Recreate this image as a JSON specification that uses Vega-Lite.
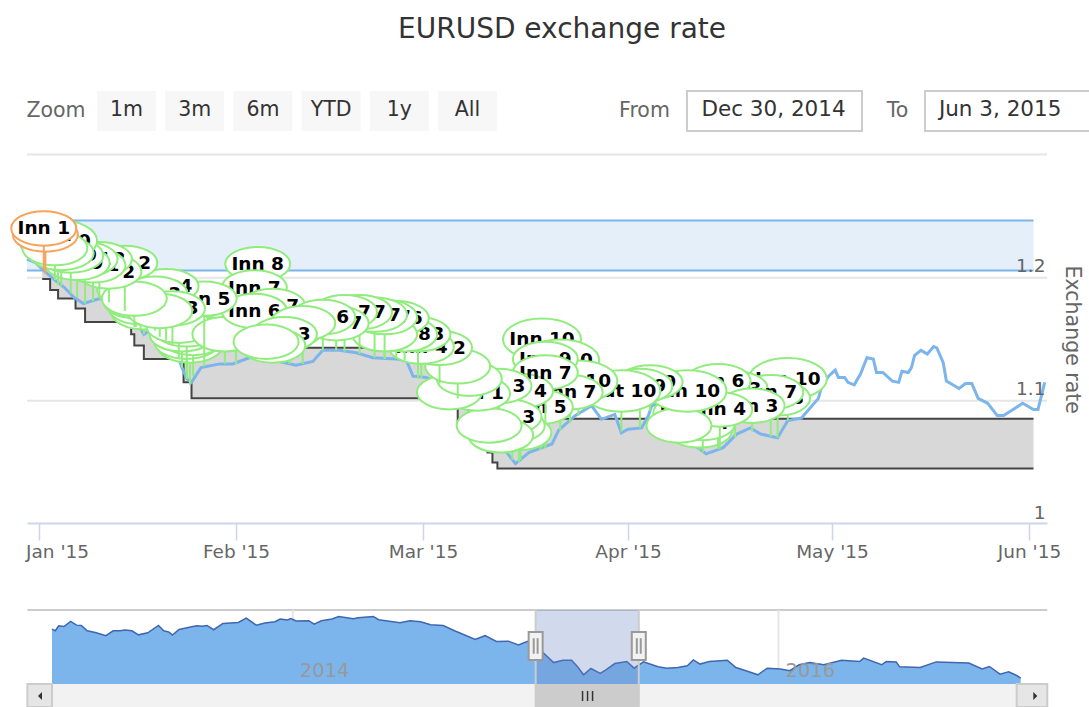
{"$schema":"https://vega.github.io/schema/vega-lite/v6.json","width":1089,"height":707,"autosize":"none","padding":0,"background":"white",
"title":{"text":"EURUSD exchange rate","font":"DejaVu Sans","fontSize":28,"fontWeight":"normal","color":"#333333","anchor":"middle","frame":"group","dx":17.5,"dy":44,"offset":0},
"config":{"view":{"stroke":null},"point":{"shape":"M-1,0A1,0.53 0 1,1 1,0A1,0.53 0 1,1 -1,0Z","filled":true,"fill":"#ffffff","stroke":"#90ed7d","strokeWidth":2,"opacity":1,"size":4225},"rule":{"color":"#90ed7d","strokeWidth":2},"text":{"font":"DejaVu Sans","fontSize":18.5,"fontWeight":"bold","color":"#000000"}},
"datasets":{
"line":[{"date":"2014-12-30T00:00","rate":1.215},{"date":"2014-12-31T12:00","rate":1.212},{"date":"2015-01-01T12:00","rate":1.207},{"date":"2015-01-03T12:00","rate":1.198},{"date":"2015-01-05T00:00","rate":1.192},{"date":"2015-01-06T12:00","rate":1.184},{"date":"2015-01-08T00:00","rate":1.179},{"date":"2015-01-10T12:00","rate":1.183},{"date":"2015-01-13T00:00","rate":1.18},{"date":"2015-01-15T12:00","rate":1.172},{"date":"2015-01-17T12:00","rate":1.154},{"date":"2015-01-19T00:00","rate":1.159},{"date":"2015-01-21T00:00","rate":1.149},{"date":"2015-01-22T12:00","rate":1.141},{"date":"2015-01-23T12:00","rate":1.127},{"date":"2015-01-24T06:00","rate":1.118},{"date":"2015-01-25T00:00","rate":1.115},{"date":"2015-01-26T12:00","rate":1.127},{"date":"2015-01-27T12:00","rate":1.128},{"date":"2015-01-29T12:00","rate":1.13},{"date":"2015-01-31T12:00","rate":1.13},{"date":"2015-02-03T00:00","rate":1.135},{"date":"2015-02-04T00:00","rate":1.143},{"date":"2015-02-05T12:00","rate":1.135},{"date":"2015-02-07T12:00","rate":1.132},{"date":"2015-02-10T00:00","rate":1.129},{"date":"2015-02-12T12:00","rate":1.132},{"date":"2015-02-14T00:00","rate":1.141},{"date":"2015-02-16T12:00","rate":1.141},{"date":"2015-02-19T00:00","rate":1.139},{"date":"2015-02-21T12:00","rate":1.135},{"date":"2015-02-25T00:00","rate":1.134},{"date":"2015-02-26T12:00","rate":1.133},{"date":"2015-02-27T12:00","rate":1.12},{"date":"2015-03-01T12:00","rate":1.119},{"date":"2015-03-04T12:00","rate":1.111},{"date":"2015-03-07T00:00","rate":1.098},{"date":"2015-03-11T00:00","rate":1.073},{"date":"2015-03-12T00:00","rate":1.062},{"date":"2015-03-13T12:00","rate":1.059},{"date":"2015-03-15T00:00","rate":1.049},{"date":"2015-03-17T00:00","rate":1.058},{"date":"2015-03-19T00:00","rate":1.062},{"date":"2015-03-20T12:00","rate":1.065},{"date":"2015-03-21T12:00","rate":1.076},{"date":"2015-03-24T00:00","rate":1.088},{"date":"2015-03-26T12:00","rate":1.096},{"date":"2015-03-28T00:00","rate":1.085},{"date":"2015-03-30T00:00","rate":1.089},{"date":"2015-03-31T00:00","rate":1.074},{"date":"2015-04-01T00:00","rate":1.077},{"date":"2015-04-03T00:00","rate":1.078},{"date":"2015-04-04T00:00","rate":1.088},{"date":"2015-04-04T12:00","rate":1.096},{"date":"2015-04-06T12:00","rate":1.1},{"date":"2015-04-08T00:00","rate":1.088},{"date":"2015-04-10T00:00","rate":1.07},{"date":"2015-04-10T12:00","rate":1.065},{"date":"2015-04-12T12:00","rate":1.057},{"date":"2015-04-15T00:00","rate":1.062},{"date":"2015-04-17T00:00","rate":1.073},{"date":"2015-04-19T00:00","rate":1.078},{"date":"2015-04-20T12:00","rate":1.073},{"date":"2015-04-23T00:00","rate":1.07},{"date":"2015-04-24T12:00","rate":1.084},{"date":"2015-04-26T12:00","rate":1.086},{"date":"2015-04-29T00:00","rate":1.102},{"date":"2015-04-29T12:00","rate":1.112},{"date":"2015-04-30T12:00","rate":1.12},{"date":"2015-05-01T12:00","rate":1.125},{"date":"2015-05-02T00:00","rate":1.119},{"date":"2015-05-03T00:00","rate":1.119},{"date":"2015-05-03T12:00","rate":1.115},{"date":"2015-05-04T12:00","rate":1.113},{"date":"2015-05-05T12:00","rate":1.122},{"date":"2015-05-06T12:00","rate":1.135},{"date":"2015-05-07T12:00","rate":1.134},{"date":"2015-05-08T00:00","rate":1.123},{"date":"2015-05-09T00:00","rate":1.123},{"date":"2015-05-10T12:00","rate":1.116},{"date":"2015-05-11T12:00","rate":1.115},{"date":"2015-05-12T00:00","rate":1.124},{"date":"2015-05-13T00:00","rate":1.123},{"date":"2015-05-13T12:00","rate":1.127},{"date":"2015-05-14T00:00","rate":1.137},{"date":"2015-05-15T00:00","rate":1.141},{"date":"2015-05-16T00:00","rate":1.138},{"date":"2015-05-17T00:00","rate":1.144},{"date":"2015-05-17T12:00","rate":1.143},{"date":"2015-05-18T12:00","rate":1.131},{"date":"2015-05-19T00:00","rate":1.116},{"date":"2015-05-21T00:00","rate":1.11},{"date":"2015-05-22T00:00","rate":1.114},{"date":"2015-05-23T00:00","rate":1.114},{"date":"2015-05-24T00:00","rate":1.102},{"date":"2015-05-25T12:00","rate":1.098},{"date":"2015-05-27T00:00","rate":1.088},{"date":"2015-05-28T00:00","rate":1.088},{"date":"2015-05-29T12:00","rate":1.093},{"date":"2015-05-31T00:00","rate":1.098},{"date":"2015-06-01T12:00","rate":1.093},{"date":"2015-06-02T00:00","rate":1.093},{"date":"2015-06-02T18:00","rate":1.115}],
"steps":[{"date":"2015-01-01T12:00","lo":1.199,"hi":1.24},{"date":"2015-01-02T18:00","lo":1.19,"hi":1.231},{"date":"2015-01-04T00:00","lo":1.183,"hi":1.224},{"date":"2015-01-06T18:00","lo":1.175,"hi":1.216},{"date":"2015-01-08T06:00","lo":1.164,"hi":1.205},{"date":"2015-01-15T12:00","lo":1.154,"hi":1.195},{"date":"2015-01-16T00:00","lo":1.145,"hi":1.186},{"date":"2015-01-17T12:00","lo":1.134,"hi":1.175},{"date":"2015-01-23T18:00","lo":1.115,"hi":1.156},{"date":"2015-01-25T00:00","lo":1.102,"hi":1.143},{"date":"2015-03-05T00:00","lo":1.098,"hi":1.139},{"date":"2015-03-06T06:00","lo":1.081,"hi":1.122},{"date":"2015-03-10T18:00","lo":1.058,"hi":1.099},{"date":"2015-03-11T12:00","lo":1.05,"hi":1.091},{"date":"2015-03-12T06:00","lo":1.045,"hi":1.0855},{"date":"2015-06-01T12:00","lo":1.045,"hi":1.0855}],
"flags":[
{"d":0,"date":"2015-01-17T12:00","top":1.172,"r":1.154,"t":""},{"d":1,"date":"2015-01-17T00:00","top":1.176,"r":1.157,"t":""},{"d":2,"date":"2015-01-16T06:00","top":1.181,"r":1.16,"t":""},{"d":3,"date":"2015-01-15T18:00","top":1.186,"r":1.165,"t":""},{"d":4,"date":"2015-01-15T06:00","top":1.191,"r":1.17,"t":""},
{"d":15,"date":"2015-01-14T12:00","top":1.212,"r":1.173,"t":"Inn 2"},{"d":16,"date":"2015-01-12T00:00","top":1.205,"r":1.18,"t":"Inn 2"},{"d":17,"date":"2015-01-10T12:00","top":1.215,"r":1.183,"t":"Inn 2"},{"d":18,"date":"2015-01-09T12:00","top":1.21,"r":1.181,"t":"Inn 1"},{"d":19,"date":"2015-01-08T06:00","top":1.215,"r":1.179,"t":"Inn 1"},{"d":20,"date":"2015-01-07T00:00","top":1.212,"r":1.184,"t":"Inn 9"},{"d":21,"date":"2015-01-06T00:00","top":1.218,"r":1.187,"t":"Inn 9"},{"d":22,"date":"2015-01-04T00:00","top":1.23,"r":1.194,"t":"Inn 10"},{"d":23,"date":"2015-01-04T12:00","top":1.22,"r":1.193,"t":""},{"d":24,"date":"2015-01-03T12:00","top":1.224,"r":1.198,"t":""},{"d":98,"date":"2015-01-02T00:00","top":1.235,"r":1.203,"t":"Inn 1"},{"d":99,"date":"2015-01-01T18:00","top":1.24,"r":1.206,"t":"Inn 1"},
{"d":0,"date":"2015-01-24T18:00","top":1.145,"r":1.113,"t":"Inn 1"},{"d":1,"date":"2015-01-24T06:00","top":1.148,"r":1.118,"t":"Inn 2"},{"d":2,"date":"2015-01-25T06:00","top":1.151,"r":1.12,"t":"Inn 3"},{"d":3,"date":"2015-01-23T12:00","top":1.154,"r":1.127,"t":"Inn 4"},{"d":4,"date":"2015-01-24T06:00","top":1.158,"r":1.118,"t":"Inn 5"},{"d":5,"date":"2015-01-23T00:00","top":1.161,"r":1.135,"t":""},{"d":6,"date":"2015-02-01T00:00","top":1.159,"r":1.13,"t":"Inn 5"},{"d":7,"date":"2015-01-30T06:00","top":1.154,"r":1.13,"t":""},{"d":9,"date":"2015-01-27T00:00","top":1.183,"r":1.128,"t":"Inn 5"},{"d":10,"date":"2015-01-21T00:00","top":1.193,"r":1.149,"t":"Inn 4"},{"d":11,"date":"2015-01-19T06:00","top":1.187,"r":1.157,"t":"Inn 3"},{"d":12,"date":"2015-01-22T00:00","top":1.175,"r":1.145,"t":"Inn 3"},{"d":13,"date":"2015-01-20T00:00","top":1.173,"r":1.152,"t":""},{"d":14,"date":"2015-01-16T00:00","top":1.183,"r":1.16,"t":""},
{"d":0,"date":"2015-02-04T06:00","top":1.211,"r":1.143,"t":"Inn 8"},{"d":1,"date":"2015-02-03T18:00","top":1.192,"r":1.139,"t":"Inn 7"},{"d":2,"date":"2015-02-09T00:00","top":1.157,"r":1.13,"t":"Inn 1"},{"d":3,"date":"2015-02-08T06:00","top":1.157,"r":1.131,"t":"Inn 3"},{"d":4,"date":"2015-02-08T00:00","top":1.163,"r":1.132,"t":"Inn 3"},{"d":5,"date":"2015-02-07T06:00","top":1.167,"r":1.132,"t":"Inn 4"},{"d":6,"date":"2015-02-06T12:00","top":1.17,"r":1.134,"t":"Inn 5"},{"d":7,"date":"2015-02-06T12:00","top":1.177,"r":1.134,"t":"Inn 7"},{"d":8,"date":"2015-02-03T18:00","top":1.173,"r":1.139,"t":"Inn 6"},
{"d":21,"date":"2015-02-28T18:00","top":1.144,"r":1.118,"t":"Inn 4"},{"d":22,"date":"2015-02-28T06:00","top":1.154,"r":1.118,"t":"Inn 3"},{"d":23,"date":"2015-02-26T06:00","top":1.154,"r":1.133,"t":"Inn 8"},{"d":24,"date":"2015-02-25T00:00","top":1.167,"r":1.134,"t":"Inn 6"},{"d":24,"date":"2015-02-23T06:00","top":1.154,"r":1.134,"t":""},{"d":25,"date":"2015-02-23T06:00","top":1.168,"r":1.134,"t":"Inn 7"},{"d":26,"date":"2015-02-21T18:00","top":1.17,"r":1.135,"t":"Inn 7"},{"d":27,"date":"2015-02-19T12:00","top":1.172,"r":1.138,"t":"Inn 7"},{"d":28,"date":"2015-02-17T06:00","top":1.172,"r":1.14,"t":"Inn 7"},{"d":29,"date":"2015-02-16T00:00","top":1.163,"r":1.141,"t":"Inn 7"},{"d":30,"date":"2015-02-14T00:00","top":1.168,"r":1.141,"t":"Inn 6"},{"d":31,"date":"2015-02-11T00:00","top":1.163,"r":1.13,"t":""},{"d":32,"date":"2015-02-08T06:00","top":1.154,"r":1.131,"t":"Inn 3"},{"d":33,"date":"2015-02-06T12:00","top":1.145,"r":1.134,"t":""},{"d":33,"date":"2015-02-05T12:00","top":1.148,"r":1.135,"t":""},
{"d":0,"date":"2015-03-19T00:00","top":1.15,"r":1.062,"t":"Inn 10"},{"d":1,"date":"2015-03-21T18:00","top":1.133,"r":1.076,"t":"Inn 10"},{"d":11,"date":"2015-03-19T12:00","top":1.134,"r":1.062,"t":"Inn 9"},{"d":12,"date":"2015-03-19T12:00","top":1.123,"r":1.062,"t":"Inn 7"},{"d":9,"date":"2015-03-24T12:00","top":1.116,"r":1.088,"t":"Inn 10"},{"d":10,"date":"2015-03-23T06:00","top":1.107,"r":1.082,"t":"Inn 7"},{"d":11,"date":"2015-03-18T18:00","top":1.095,"r":1.06,"t":"Inn 5"},{"d":12,"date":"2015-03-15T18:00","top":1.108,"r":1.052,"t":"Inn 4"},{"d":13,"date":"2015-03-15T12:00","top":1.074,"r":1.05,"t":""},{"d":14,"date":"2015-03-14T12:00","top":1.08,"r":1.052,"t":""},{"d":15,"date":"2015-03-14T00:00","top":1.087,"r":1.058,"t":"Inn 3"},{"d":16,"date":"2015-03-12T12:00","top":1.112,"r":1.06,"t":"Inn 3"},{"d":16,"date":"2015-03-12T18:00","top":1.072,"r":1.06,"t":""},{"d":17,"date":"2015-03-11T00:00","top":1.08,"r":1.073,"t":""},{"d":17,"date":"2015-03-09T06:00","top":1.106,"r":1.085,"t":"Inn 1"},{"d":18,"date":"2015-03-05T00:00","top":1.107,"r":1.105,"t":""},{"d":18,"date":"2015-03-08T00:00","top":1.118,"r":1.097,"t":""},{"d":19,"date":"2015-03-06T06:00","top":1.128,"r":1.102,"t":""},{"d":20,"date":"2015-03-03T12:00","top":1.143,"r":1.114,"t":"Inn 2"},
{"d":8,"date":"2015-03-31T00:00","top":1.108,"r":1.075,"t":"Out 10"},{"d":7,"date":"2015-04-02T18:00","top":1.112,"r":1.078,"t":"Inn 9"},{"d":6,"date":"2015-04-04T06:00","top":1.115,"r":1.092,"t":"Inn 9"},{"d":5,"date":"2015-04-08T12:00","top":1.08,"r":1.068,"t":""},{"d":5,"date":"2015-04-09T18:00","top":1.108,"r":1.07,"t":"Inn 10"},
{"d":1,"date":"2015-04-09T12:00","top":1.09,"r":1.072,"t":"Inn 1"},{"d":2,"date":"2015-04-11T12:00","top":1.076,"r":1.06,"t":""},{"d":3,"date":"2015-04-12T00:00","top":1.082,"r":1.058,"t":"Inn 4"},{"d":3,"date":"2015-04-14T06:00","top":1.116,"r":1.061,"t":"Inn 6"},{"d":4,"date":"2015-04-14T12:00","top":1.093,"r":1.061,"t":"Inn 4"},
{"d":0,"date":"2015-04-24T12:00","top":1.118,"r":1.084,"t":"Inn 10"},{"d":1,"date":"2015-04-23T00:00","top":1.102,"r":1.07,"t":"Inn 8"},{"d":2,"date":"2015-04-22T00:00","top":1.107,"r":1.071,"t":"Inn 7"},{"d":2,"date":"2015-04-16T18:00","top":1.11,"r":1.07,"t":"Inn 3"},{"d":3,"date":"2015-04-19T06:00","top":1.096,"r":1.075,"t":"Inn 3"}],
"nav":[{"date":"2013-01-04","v":1.313},{"date":"2013-01-09","v":1.303},{"date":"2013-01-14","v":1.332},{"date":"2013-01-22","v":1.328},{"date":"2013-02-01","v":1.358},{"date":"2013-02-10","v":1.336},{"date":"2013-02-17","v":1.334},{"date":"2013-02-26","v":1.303},{"date":"2013-03-10","v":1.293},{"date":"2013-03-26","v":1.274},{"date":"2013-04-06","v":1.303},{"date":"2013-04-16","v":1.303},{"date":"2013-04-24","v":1.307},{"date":"2013-05-04","v":1.303},{"date":"2013-05-14","v":1.279},{"date":"2013-05-28","v":1.291},{"date":"2013-06-13","v":1.334},{"date":"2013-06-21","v":1.303},{"date":"2013-06-29","v":1.295},{"date":"2013-07-04","v":1.278},{"date":"2013-07-14","v":1.311},{"date":"2013-08-02","v":1.326},{"date":"2013-08-10","v":1.332},{"date":"2013-08-17","v":1.33},{"date":"2013-08-25","v":1.334},{"date":"2013-09-04","v":1.309},{"date":"2013-09-18","v":1.346},{"date":"2013-10-11","v":1.352},{"date":"2013-10-23","v":1.377},{"date":"2013-11-07","v":1.336},{"date":"2013-11-20","v":1.348},{"date":"2013-12-05","v":1.356},{"date":"2013-12-13","v":1.372},{"date":"2013-12-24","v":1.366},{"date":"2013-12-29","v":1.374},{"date":"2014-01-06","v":1.36},{"date":"2014-01-25","v":1.362},{"date":"2014-02-02","v":1.342},{"date":"2014-02-13","v":1.362},{"date":"2014-03-01","v":1.372},{"date":"2014-03-11","v":1.387},{"date":"2014-04-02","v":1.374},{"date":"2014-04-09","v":1.379},{"date":"2014-05-02","v":1.387},{"date":"2014-05-10","v":1.368},{"date":"2014-06-11","v":1.35},{"date":"2014-06-26","v":1.362},{"date":"2014-07-12","v":1.356},{"date":"2014-07-27","v":1.338},{"date":"2014-08-15","v":1.334},{"date":"2014-09-01","v":1.303},{"date":"2014-09-11","v":1.287},{"date":"2014-10-02","v":1.252},{"date":"2014-10-17","v":1.274},{"date":"2014-11-03","v":1.24},{"date":"2014-11-21","v":1.242},{"date":"2014-12-06","v":1.219},{"date":"2014-12-22","v":1.244},{"date":"2015-01-12","v":1.175},{"date":"2015-01-28","v":1.116},{"date":"2015-02-11","v":1.13},{"date":"2015-02-24","v":1.13},{"date":"2015-03-05","v":1.091},{"date":"2015-03-14","v":1.044},{"date":"2015-03-25","v":1.081},{"date":"2015-04-08","v":1.052},{"date":"2015-04-16","v":1.072},{"date":"2015-04-30","v":1.11},{"date":"2015-05-18","v":1.122},{"date":"2015-05-29","v":1.083},{"date":"2015-06-12","v":1.12},{"date":"2015-07-04","v":1.091},{"date":"2015-07-17","v":1.083},{"date":"2015-08-03","v":1.087},{"date":"2015-08-17","v":1.097},{"date":"2015-08-26","v":1.132},{"date":"2015-09-05","v":1.107},{"date":"2015-09-19","v":1.122},{"date":"2015-10-16","v":1.13},{"date":"2015-10-29","v":1.087},{"date":"2015-11-13","v":1.068},{"date":"2015-12-01","v":1.044},{"date":"2015-12-15","v":1.083},{"date":"2016-01-04","v":1.078},{"date":"2016-01-18","v":1.068},{"date":"2016-02-01","v":1.103},{"date":"2016-02-17","v":1.116},{"date":"2016-03-09","v":1.103},{"date":"2016-04-05","v":1.13},{"date":"2016-05-02","v":1.122},{"date":"2016-05-08","v":1.142},{"date":"2016-06-04","v":1.103},{"date":"2016-06-11","v":1.122},{"date":"2016-06-26","v":1.12},{"date":"2016-07-01","v":1.091},{"date":"2016-08-01","v":1.087},{"date":"2016-08-25","v":1.12},{"date":"2016-10-13","v":1.113},{"date":"2016-11-02","v":1.078},{"date":"2016-11-13","v":1.093},{"date":"2016-11-29","v":1.048},{"date":"2016-12-12","v":1.062},{"date":"2016-12-24","v":1.04},{"date":"2016-12-30","v":1.025}]
},
"resolve":{"scale":{"x":"independent","y":"independent"},"axis":{"x":"independent","y":"independent"}},
"layer":[
{"encoding":{"x":{"field":"slot","type":"quantitative","scale":{"domain":[0,5],"range":[126.5,467.5]},"axis":null},"y":{"datum":0.5,"type":"quantitative","scale":{"domain":[0,1],"range":[131,91]},"axis":null}},
"layer":[
{"data":{"values":[{"label":"1m","slot":0},{"label":"3m","slot":1},{"label":"6m","slot":2},{"label":"YTD","slot":3},{"label":"1y","slot":4},{"label":"All","slot":5}]},"layer":[{"mark":{"type":"point","shape":"M-1,-0.68H1V0.68H-1Z","size":3481,"fill":"#f7f7f7","stroke":null}},{"mark":{"type":"text","fontWeight":"normal","fontSize":20.5,"color":"#333333","dy":-1},"encoding":{"text":{"field":"label"}}}]},
{"data":{"values":[{"slot":9.501}]},"mark":{"type":"point","shape":"M-1,-0.229H1V0.229H-1Z","size":30625,"fill":"#ffffff","stroke":"#cccccc","strokeWidth":2}},
{"data":{"values":[{"slot":12.955}]},"mark":{"type":"point","shape":"M-1,-0.235H1V0.235H-1Z","size":28900,"fill":"#ffffff","stroke":"#cccccc","strokeWidth":2}},
{"data":{"values":[{"label":"Dec 30, 2014","slot":9.487},{"label":"Jun 3, 2015","slot":12.81}]},"mark":{"type":"text","fontWeight":"normal","fontSize":21.5,"color":"#333333","dy":-1},"encoding":{"text":{"field":"label"}}},
{"data":{"values":[{"label":"Zoom","slot":-1.034},{"label":"From","slot":7.595},{"label":"To","slot":11.305}]},"mark":{"type":"text","fontWeight":"normal","fontSize":20.5,"color":"#666666"},"encoding":{"text":{"field":"label"}}}
]},
{"layer":[
{"data":{"values":[{"rate":1.1,"a":"2014-12-30T00:00","b":"2015-06-03T00:00"},{"rate":1.2,"a":"2014-12-30T00:00","b":"2015-06-03T00:00"},{"rate":1.3,"a":"2014-12-30T00:00","b":"2015-06-03T00:00"}]},"mark":{"type":"rule","color":"#e6e6e6","strokeWidth":2},
"encoding":{"x":{"field":"a","type":"temporal","scale":{"domain":{"expr":"[datetime(2014,11,30),datetime(2015,0,1),datetime(2015,1,1),datetime(2015,2,1),datetime(2015,3,1),datetime(2015,4,1),datetime(2015,5,1),datetime(2015,5,3)]"},"range":[27,39,236,423,628,832,1029,1047]},"axis":{"orient":"bottom","offset":-184,"title":null,"grid":false,"zindex":1,"values":[{"year":2015,"month":1,"date":1},{"year":2015,"month":2,"date":1},{"year":2015,"month":3,"date":1},{"year":2015,"month":4,"date":1},{"year":2015,"month":5,"date":1},{"year":2015,"month":6,"date":1}],"labelExpr":"timeFormat(datum.value,\"%b '%y\")","labelOffset":{"expr":"month(datum.value)==0?18:0"},"labelFont":"DejaVu Sans","labelFontSize":18.5,"labelColor":"#666666","labelPadding":2,"labelOverlap":false,"labelBound":false,"labelFlush":false,"tickSize":17,"tickColor":"#ccd6eb","tickWidth":1.5,"domainColor":"#ccd6eb","domainWidth":2}},
"x2":{"field":"b"},
"y":{"field":"rate","type":"quantitative","scale":{"domain":[1,1.3],"range":[524,154.5],"nice":false,"zero":false},"axis":{"orient":"right","offset":-42,"zindex":1,"title":"Exchange rate","titleFont":"DejaVu Sans","titleFontSize":20.5,"titleFontWeight":"normal","titleColor":"#666666","titleAngle":90,"grid":false,"ticks":false,"domain":false,"values":[1,1.1,1.2],"format":"~g","labelFont":"DejaVu Sans","labelFontSize":18.5,"labelColor":"#666666","labelAlign":"right","labelBaseline":"bottom","labelPadding":-2,"labelOffset":-2,"titlePadding":14}}}},
{"data":{"values":[{"a":"2014-12-30T00:00","b":"2015-06-01T12:00","lo":1.2058,"hi":1.2465}]},"encoding":{"x":{"field":"a","type":"temporal"},"x2":{"field":"b"}},"layer":[{"mark":{"type":"rect","fill":"#e4effa"},"encoding":{"y":{"field":"lo","type":"quantitative"},"y2":{"field":"hi"}}},{"mark":{"type":"rule","color":"#7cb5ec","strokeWidth":2},"encoding":{"y":{"field":"lo","type":"quantitative"}}},{"mark":{"type":"rule","color":"#7cb5ec","strokeWidth":2},"encoding":{"y":{"field":"hi","type":"quantitative"}}}]},
{"data":{"name":"steps"},"encoding":{"x":{"field":"date","type":"temporal"}},"layer":[{"mark":{"type":"area","interpolate":"step-after","fill":"#d8d8d8","opacity":1},"encoding":{"y":{"field":"lo","type":"quantitative"},"y2":{"field":"hi"}}},{"mark":{"type":"line","interpolate":"step-after","color":"#444444","strokeWidth":2},"encoding":{"y":{"field":"lo","type":"quantitative"}}},{"mark":{"type":"line","interpolate":"step-after","color":"#444444","strokeWidth":2},"encoding":{"y":{"field":"hi","type":"quantitative"}}}]},
{"data":{"name":"line"},"mark":{"type":"line","color":"#7cb5ec","strokeWidth":3},"encoding":{"x":{"field":"date","type":"temporal"},"y":{"field":"rate","type":"quantitative"}}},
{"data":{"name":"flags"},"encoding":{"x":{"field":"date","type":"temporal"},"y":{"field":"top","type":"quantitative"}},"layer":[
{"transform":[{"filter":"datum.d==0"}],"layer":[{"mark":"rule","encoding":{"y2":{"field":"r"}}},{"mark":"point","encoding":{"size":{"condition":{"test":"length(datum.t)>5","value":6084},"value":4225}}},{"mark":"text","encoding":{"text":{"field":"t"}}}]},
{"transform":[{"filter":"datum.d==1"}],"layer":[{"mark":"rule","encoding":{"y2":{"field":"r"}}},{"mark":"point","encoding":{"size":{"condition":{"test":"length(datum.t)>5","value":6084},"value":4225}}},{"mark":"text","encoding":{"text":{"field":"t"}}}]},
{"transform":[{"filter":"datum.d==2"}],"layer":[{"mark":"rule","encoding":{"y2":{"field":"r"}}},{"mark":"point"},{"mark":"text","encoding":{"text":{"field":"t"}}}]},
{"transform":[{"filter":"datum.d==3"}],"layer":[{"mark":"rule","encoding":{"y2":{"field":"r"}}},{"mark":"point"},{"mark":"text","encoding":{"text":{"field":"t"}}}]},
{"transform":[{"filter":"datum.d==4"}],"layer":[{"mark":"rule","encoding":{"y2":{"field":"r"}}},{"mark":"point"},{"mark":"text","encoding":{"text":{"field":"t"}}}]},
{"transform":[{"filter":"datum.d==5"}],"layer":[{"mark":"rule","encoding":{"y2":{"field":"r"}}},{"mark":"point","encoding":{"size":{"condition":{"test":"length(datum.t)>5","value":6084},"value":4225}}},{"mark":"text","encoding":{"text":{"field":"t"}}}]},
{"transform":[{"filter":"datum.d==6"}],"layer":[{"mark":"rule","encoding":{"y2":{"field":"r"}}},{"mark":"point"},{"mark":"text","encoding":{"text":{"field":"t"}}}]},
{"transform":[{"filter":"datum.d==7"}],"layer":[{"mark":"rule","encoding":{"y2":{"field":"r"}}},{"mark":"point"},{"mark":"text","encoding":{"text":{"field":"t"}}}]},
{"transform":[{"filter":"datum.d==8"}],"layer":[{"mark":"rule","encoding":{"y2":{"field":"r"}}},{"mark":"point","encoding":{"size":{"condition":{"test":"length(datum.t)>5","value":6084},"value":4225}}},{"mark":"text","encoding":{"text":{"field":"t"}}}]},
{"transform":[{"filter":"datum.d==9"}],"layer":[{"mark":"rule","encoding":{"y2":{"field":"r"}}},{"mark":"point","encoding":{"size":{"condition":{"test":"length(datum.t)>5","value":6084},"value":4225}}},{"mark":"text","encoding":{"text":{"field":"t"}}}]},
{"transform":[{"filter":"datum.d==10"}],"layer":[{"mark":"rule","encoding":{"y2":{"field":"r"}}},{"mark":"point"},{"mark":"text","encoding":{"text":{"field":"t"}}}]},
{"transform":[{"filter":"datum.d==11"}],"layer":[{"mark":"rule","encoding":{"y2":{"field":"r"}}},{"mark":"point"},{"mark":"text","encoding":{"text":{"field":"t"}}}]},
{"transform":[{"filter":"datum.d==12"}],"layer":[{"mark":"rule","encoding":{"y2":{"field":"r"}}},{"mark":"point"},{"mark":"text","encoding":{"text":{"field":"t"}}}]},
{"transform":[{"filter":"datum.d==13"}],"layer":[{"mark":"rule","encoding":{"y2":{"field":"r"}}},{"mark":"point"},{"mark":"text","encoding":{"text":{"field":"t"}}}]},
{"transform":[{"filter":"datum.d==14"}],"layer":[{"mark":"rule","encoding":{"y2":{"field":"r"}}},{"mark":"point"},{"mark":"text","encoding":{"text":{"field":"t"}}}]},
{"transform":[{"filter":"datum.d==15"}],"layer":[{"mark":"rule","encoding":{"y2":{"field":"r"}}},{"mark":"point"},{"mark":"text","encoding":{"text":{"field":"t"}}}]},
{"transform":[{"filter":"datum.d==16"}],"layer":[{"mark":"rule","encoding":{"y2":{"field":"r"}}},{"mark":"point"},{"mark":"text","encoding":{"text":{"field":"t"}}}]},
{"transform":[{"filter":"datum.d==17"}],"layer":[{"mark":"rule","encoding":{"y2":{"field":"r"}}},{"mark":"point"},{"mark":"text","encoding":{"text":{"field":"t"}}}]},
{"transform":[{"filter":"datum.d==18"}],"layer":[{"mark":"rule","encoding":{"y2":{"field":"r"}}},{"mark":"point"},{"mark":"text","encoding":{"text":{"field":"t"}}}]},
{"transform":[{"filter":"datum.d==19"}],"layer":[{"mark":"rule","encoding":{"y2":{"field":"r"}}},{"mark":"point"},{"mark":"text","encoding":{"text":{"field":"t"}}}]},
{"transform":[{"filter":"datum.d==20"}],"layer":[{"mark":"rule","encoding":{"y2":{"field":"r"}}},{"mark":"point"},{"mark":"text","encoding":{"text":{"field":"t"}}}]},
{"transform":[{"filter":"datum.d==21"}],"layer":[{"mark":"rule","encoding":{"y2":{"field":"r"}}},{"mark":"point"},{"mark":"text","encoding":{"text":{"field":"t"}}}]},
{"transform":[{"filter":"datum.d==22"}],"layer":[{"mark":"rule","encoding":{"y2":{"field":"r"}}},{"mark":"point","encoding":{"size":{"condition":{"test":"length(datum.t)>5","value":6084},"value":4225}}},{"mark":"text","encoding":{"text":{"field":"t"}}}]},
{"transform":[{"filter":"datum.d==23"}],"layer":[{"mark":"rule","encoding":{"y2":{"field":"r"}}},{"mark":"point"},{"mark":"text","encoding":{"text":{"field":"t"}}}]},
{"transform":[{"filter":"datum.d==24"}],"layer":[{"mark":"rule","encoding":{"y2":{"field":"r"}}},{"mark":"point"},{"mark":"text","encoding":{"text":{"field":"t"}}}]},
{"transform":[{"filter":"datum.d==25"}],"layer":[{"mark":"rule","encoding":{"y2":{"field":"r"}}},{"mark":"point"},{"mark":"text","encoding":{"text":{"field":"t"}}}]},
{"transform":[{"filter":"datum.d==26"}],"layer":[{"mark":"rule","encoding":{"y2":{"field":"r"}}},{"mark":"point"},{"mark":"text","encoding":{"text":{"field":"t"}}}]},
{"transform":[{"filter":"datum.d==27"}],"layer":[{"mark":"rule","encoding":{"y2":{"field":"r"}}},{"mark":"point"},{"mark":"text","encoding":{"text":{"field":"t"}}}]},
{"transform":[{"filter":"datum.d==28"}],"layer":[{"mark":"rule","encoding":{"y2":{"field":"r"}}},{"mark":"point"},{"mark":"text","encoding":{"text":{"field":"t"}}}]},
{"transform":[{"filter":"datum.d==29"}],"layer":[{"mark":"rule","encoding":{"y2":{"field":"r"}}},{"mark":"point"},{"mark":"text","encoding":{"text":{"field":"t"}}}]},
{"transform":[{"filter":"datum.d==30"}],"layer":[{"mark":"rule","encoding":{"y2":{"field":"r"}}},{"mark":"point"},{"mark":"text","encoding":{"text":{"field":"t"}}}]},
{"transform":[{"filter":"datum.d==31"}],"layer":[{"mark":"rule","encoding":{"y2":{"field":"r"}}},{"mark":"point"},{"mark":"text","encoding":{"text":{"field":"t"}}}]},
{"transform":[{"filter":"datum.d==32"}],"layer":[{"mark":"rule","encoding":{"y2":{"field":"r"}}},{"mark":"point"},{"mark":"text","encoding":{"text":{"field":"t"}}}]},
{"transform":[{"filter":"datum.d==33"}],"layer":[{"mark":"rule","encoding":{"y2":{"field":"r"}}},{"mark":"point"},{"mark":"text","encoding":{"text":{"field":"t"}}}]},
{"transform":[{"filter":"datum.d==98"}],"layer":[{"mark":{"type":"rule","color":"#f7a35c"},"encoding":{"y2":{"field":"r"}}},{"mark":{"type":"point","stroke":"#f7a35c"}},{"mark":"text","encoding":{"text":{"field":"t"}}}]},
{"transform":[{"filter":"datum.d==99"}],"layer":[{"mark":{"type":"rule","color":"#f7a35c"},"encoding":{"y2":{"field":"r"}}},{"mark":{"type":"point","stroke":"#f7a35c"}},{"mark":"text","encoding":{"text":{"field":"t"}}}]}
]}
]},
{"layer":[
{"data":{"values":[{"a":"2012-11-28","b":"2017-02-08"}]},"mark":{"type":"rule","color":"#cccccc","strokeWidth":2},"encoding":{"x":{"field":"a","type":"temporal","scale":{"domain":[{"year":2013,"month":1,"date":1},{"year":2017,"month":1,"date":1}],"range":[50,1022]},"axis":null},"x2":{"field":"b"},"y":{"datum":1.425,"type":"quantitative","scale":{"domain":[0.99,1.425],"range":[684,610],"nice":false,"zero":false},"axis":null}}},
{"data":{"values":[{"year":"2014-01-01","label":"2014"},{"year":"2016-01-01","label":"2016"}]},"mark":{"type":"rule","color":"#e6e6e6","strokeWidth":2},"encoding":{"x":{"field":"year","type":"temporal","axis":null},"y":{"datum":1.425,"type":"quantitative","axis":null},"y2":{"datum":0.99}}},
{"data":{"name":"nav"},"mark":{"type":"area","fill":"#7cb5ec","opacity":1,"line":{"color":"#3f66b0","strokeWidth":1.5}},"encoding":{"x":{"field":"date","type":"temporal","axis":null},"y":{"field":"v","type":"quantitative","axis":null},"y2":{"datum":0.99}}},
{"data":{"values":[{"year":"2014-01-01","label":"2014"},{"year":"2016-01-01","label":"2016"}]},"mark":{"type":"text","align":"left","dx":7,"fontWeight":"normal","fontSize":19.5,"color":"#999999"},"encoding":{"x":{"field":"year","type":"temporal","axis":null},"y":{"datum":1.068,"type":"quantitative","axis":null},"text":{"field":"label"}}},
{"data":{"values":[{"a":"2012-12-01","b":"2017-02-05"}]},"mark":{"type":"rect","fill":"#f2f2f2"},"encoding":{"x":{"field":"a","type":"temporal","axis":null},"x2":{"field":"b"},"y":{"datum":0.99,"type":"quantitative","axis":null},"y2":{"datum":0.8548}}},
{"data":{"values":[{"a":"2012-11-28","b":"2013-01-04"},{"a":"2016-12-24","b":"2017-02-08"}]},"mark":{"type":"rect","fill":"#e6e6e6","stroke":"#cccccc","strokeWidth":2},"encoding":{"x":{"field":"a","type":"temporal","axis":null},"x2":{"field":"b"},"y":{"datum":0.99,"type":"quantitative","axis":null},"y2":{"datum":0.8548}}},
{"data":{"values":[{"a":"2015-01-01","b":"2015-06-05"}]},"mark":{"type":"rect","fill":"#cccccc"},"encoding":{"x":{"field":"a","type":"temporal","axis":null},"x2":{"field":"b"},"y":{"datum":0.99,"type":"quantitative","axis":null},"y2":{"datum":0.8548}}},
{"data":{"values":[{"a":"2015-01-01","b":"2015-06-05"}]},"mark":{"type":"rect","fill":"#6685c2","opacity":0.3},"encoding":{"x":{"field":"a","type":"temporal","axis":null},"x2":{"field":"b"},"y":{"datum":1.425,"type":"quantitative","axis":null},"y2":{"datum":0.99}}},
{"data":{"values":[{"a":"2015-01-01"},{"a":"2015-06-05"}]},"mark":{"type":"rule","color":"#cccccc","strokeWidth":2},"encoding":{"x":{"field":"a","type":"temporal","axis":null},"y":{"datum":1.425,"type":"quantitative","axis":null},"y2":{"datum":0.8548}}},
{"data":{"values":[{"a":"2015-01-01"},{"a":"2015-06-05"}]},"mark":{"type":"point","shape":"M-0.5,-1H0.5V1H-0.5ZM-0.14,-0.55V0.55M0.14,-0.55V0.55","size":784,"fill":"#f2f2f2","stroke":"#999999","strokeWidth":2},"encoding":{"x":{"field":"a","type":"temporal","axis":null},"y":{"datum":1.2134,"type":"quantitative","axis":null}}},
{"data":{"values":[{"a":"2015-03-20"}]},"mark":{"type":"point","shape":"M-1,-1V1M0,-1V1M1,-1V1","size":100,"fill":"transparent","stroke":"#333333","strokeWidth":1.5},"encoding":{"x":{"field":"a","type":"temporal","axis":null},"y":{"datum":0.919,"type":"quantitative","axis":null}}},
{"data":{"values":[{"a":"2012-12-17"}]},"mark":{"type":"point","shape":"M0.5,-1V1L-0.5,0Z","size":64,"fill":"#333333","stroke":null},"encoding":{"x":{"field":"a","type":"temporal","axis":null},"y":{"datum":0.919,"type":"quantitative","axis":null}}},
{"data":{"values":[{"a":"2017-01-21"}]},"mark":{"type":"point","shape":"M-0.5,-1V1L0.5,0Z","size":64,"fill":"#333333","stroke":null},"encoding":{"x":{"field":"a","type":"temporal","axis":null},"y":{"datum":0.919,"type":"quantitative","axis":null}}}
]}
]}
